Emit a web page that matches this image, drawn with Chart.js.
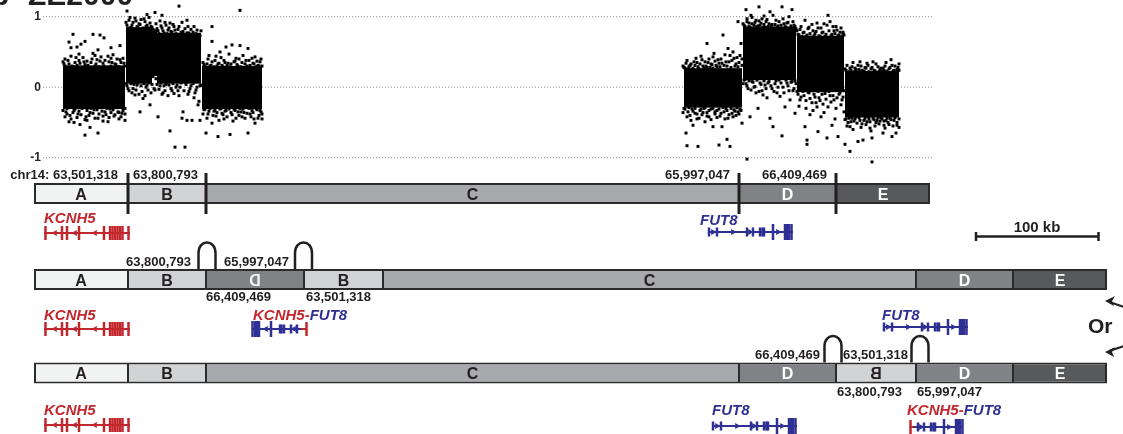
<!DOCTYPE html>
<html>
<head>
<meta charset="utf-8">
<title>KCNH5-FUT8 rearrangement</title>
<script src="https://cdn.jsdelivr.net/npm/chart.js@4.4.1/dist/chart.umd.min.js"></script>
<style>
  html, body { margin: 0; padding: 0; background: #fff; }
  canvas { display: block; }
</style>
</head>
<body>
<canvas id="chart" width="1123" height="434"></canvas>
<script>
// ---- copy number track (log2 ratio) ----
const cnTicks = [1, 0, -1];

// dense body of each segment: [from, to, low, high]
const cnCore = [
  [63, 125, -0.31, 0.31],
  [126, 152, 0.05, 0.85],
  [152, 157, 0.16, 0.80],
  [157, 201, 0.05, 0.77],
  [202, 262, -0.31, 0.30],
  [684, 742, -0.29, 0.27],
  [743, 796, 0.10, 0.86],
  [797, 844, -0.07, 0.73],
  [845, 899, -0.43, 0.23]
];

// probes around the dense bodies: [position, log2 ratio]
const cnLeft = [
  // A
  [64,0.33],[65,0.30],[66,-0.35],[67,-0.30],[68,0.38],[70,-0.40],[72,0.30],[74,-0.33],[76,0.42],[78,-0.38],
  [79,0.47],[80,0.34],[82,-0.30],[84,0.36],[86,-0.42],[87,-0.47],[88,0.31],[90,-0.36],[92,0.40],[94,-0.32],
  [95,0.45],[96,0.33],[98,-0.44],[100,0.37],[102,-0.34],[103,-0.48],[104,0.30],[106,-0.39],[108,0.44],[110,-0.31],
  [111,0.41],[112,0.35],[114,-0.41],[116,0.32],[118,-0.35],[119,-0.45],[120,0.39],[122,-0.37],[124,0.34],[125,-0.30],
  [73,0.75],[69,0.64],[93,0.75],[100,0.74],[104,0.70],[85,0.65],[81,0.61],[77,0.57],[71,0.56],[111,0.56],
  [98,0.53],[120,0.59],[69,-0.49],[74,-0.50],[80,-0.53],[85,-0.68],[98,-0.65],[90,-0.57],[108,-0.49],[125,-0.47],
  [63,0.36],[65,0.40],[67,0.27],[69,0.33],[71,0.44],[73,0.29],[75,0.35],[77,0.31],[79,0.38],[81,0.28],
  [83,0.42],[85,0.32],[87,0.37],[89,0.27],[91,0.35],[93,0.48],[95,0.30],[97,0.39],[99,0.29],[101,0.43],
  [103,0.34],[105,0.38],[107,0.28],[109,0.36],[111,0.30],[113,0.46],[115,0.33],[117,0.40],[119,0.29],[121,0.35],
  [123,0.41],[125,0.30],
  [63,-0.33],[65,-0.42],[67,-0.38],[69,-0.29],[71,-0.45],[73,-0.36],[75,-0.31],[77,-0.43],[79,-0.34],[81,-0.39],
  [83,-0.29],[85,-0.46],[87,-0.33],[89,-0.40],[91,-0.30],[93,-0.37],[95,-0.44],[97,-0.32],[99,-0.38],[101,-0.29],
  [103,-0.41],[105,-0.35],[107,-0.30],[109,-0.43],[111,-0.36],[113,-0.32],[115,-0.39],[117,-0.29],[119,-0.36],[121,-0.42],
  [123,-0.33],[125,-0.38],
  // B
  [127,0.88],[129,0.95],[131,0.85],[133,0.92],[135,0.98],[137,0.86],[139,0.90],[141,0.96],[143,0.84],[145,0.93],
  [147,0.88],[149,0.99],[151,0.86],[153,0.82],[156,0.90],[158,0.80],[160,0.94],[162,0.84],[164,0.77],[166,0.88],
  [168,0.81],[170,0.91],[172,0.78],[174,0.86],[176,0.76],[178,0.82],[180,0.74],[183,0.79],[186,0.73],[189,0.77],
  [192,0.72],[195,0.75],[198,0.70],[200,0.73],[127,1.08],[155,1.06],[179,1.15],[147,1.03],[162,1.02],[187,0.95],
  [126,0.92],[128,0.84],[130,0.99],[132,0.88],[134,0.83],[136,0.94],[138,0.85],[140,0.89],[142,0.83],[144,0.97],
  [146,0.86],[148,0.84],[150,0.91],[152,0.85],[157,0.83],[159,0.76],[161,0.87],[163,0.80],[165,0.92],[167,0.76],
  [169,0.84],[171,0.79],[173,0.89],[175,0.81],[177,0.75],[179,0.86],[181,0.78],[182,0.92],[184,0.75],[185,0.83],
  [187,0.77],[188,0.86],[190,0.74],[191,0.82],[193,0.78],[194,0.86],[196,0.76],[197,0.81],[199,0.75],[201,0.80],
  [127,0.02],[129,-0.05],[131,0.05],[133,-0.02],[135,-0.11],[137,0.03],[140,-0.35],[143,-0.16],[146,0.00],[150,-0.25],
  [152,0.04],[154,-0.02],[155,-0.04],[156,0.12],[158,-0.42],[160,0.02],[163,-0.08],[166,0.04],[170,-0.62],[172,-0.05],
  [175,-0.85],[176,0.00],[179,-0.12],[182,-0.44],[183,-0.35],[185,-0.85],[187,-0.47],[189,-0.06],[192,-0.47],[194,-0.15],
  [197,0.00],[199,-0.20],[201,0.03],[180,0.00],[184,-0.05],[188,-0.10],[191,0.02],[195,-0.08],[198,-0.25],
  [126,0.05],[128,-0.02],[130,0.08],[132,-0.08],[134,0.04],[136,-0.04],[138,0.06],[139,-0.10],[141,0.02],[142,-0.06],
  [144,0.05],[145,-0.12],[147,0.03],[148,-0.04],[149,0.06],[151,-0.08],[157,0.04],[159,-0.03],[161,0.06],[162,-0.10],
  [164,0.02],[165,-0.05],[167,0.07],[168,-0.12],[169,0.03],[171,-0.02],[173,0.05],[174,-0.09],[177,0.03],[178,-0.05],
  [181,0.06],[186,0.04],[190,-0.02],[193,0.05],[196,-0.04],[200,0.02],
  [152.5,0.55],[153,0.25],[153.5,0.74],[154,0.45],[154.5,0.20],[155,0.28],[155.5,0.80],[156,0.40],[156.5,0.72],[153,0.15],
  // C
  [204,0.32],[206,0.28],[208,0.40],[210,0.30],[212,0.36],[214,0.29],[216,0.44],[218,0.33],[220,0.50],[222,0.31],
  [224,0.38],[226,0.57],[228,0.34],[230,0.29],[232,0.60],[234,0.36],[236,0.41],[238,0.30],[240,0.59],[242,0.35],
  [244,0.28],[246,0.38],[248,0.55],[250,0.31],[252,0.41],[254,0.33],[256,0.29],[258,0.31],[260,0.36],[262,0.30],
  [212,0.86],[212,0.65],[240,1.09],
  [203,0.35],[205,0.29],[207,0.33],[209,0.45],[211,0.31],[213,0.28],[215,0.38],[217,0.30],[219,0.34],[221,0.42],
  [223,0.29],[225,0.35],[227,0.31],[229,0.47],[231,0.33],[233,0.28],[235,0.37],[237,0.32],[239,0.40],[241,0.29],
  [243,0.45],[245,0.33],[247,0.30],[249,0.38],[251,0.28],[253,0.34],[255,0.43],[257,0.37],[259,0.30],[261,0.40],
  [204,-0.32],[206,-0.65],[208,-0.38],[210,-0.30],[212,-0.51],[214,-0.34],[216,-0.41],[218,-0.70],[220,-0.31],[222,-0.37],
  [224,-0.45],[226,-0.33],[228,-0.29],[230,-0.67],[232,-0.39],[234,-0.31],[236,-0.44],[238,-0.35],[240,-0.30],[242,-0.42],
  [244,-0.36],[246,-0.29],[248,-0.65],[250,-0.38],[252,-0.33],[254,-0.45],[255,-0.51],[257,-0.32],[259,-0.40],[261,-0.35],
  [262,-0.45],[200,-0.47],
  [203,-0.38],[205,-0.31],[207,-0.44],[209,-0.34],[211,-0.29],[213,-0.40],[215,-0.33],[217,-0.36],[219,-0.47],[221,-0.30],
  [223,-0.39],[225,-0.34],[227,-0.42],[229,-0.31],[231,-0.36],[233,-0.48],[235,-0.33],[237,-0.29],[239,-0.40],[241,-0.35],
  [243,-0.31],[245,-0.44],[247,-0.37],[249,-0.30],[251,-0.42],[253,-0.36],[256,-0.30],[258,-0.44],[260,-0.33],[262,-0.38]
];

const cnRight = [
  // left normal part
  [684,0.28],[686,0.34],[688,0.26],[690,0.31],[692,0.25],[694,0.36],[696,0.41],[698,0.29],[700,0.33],[702,0.39],
  [704,0.27],[706,0.30],[707,0.62],[708,0.35],[710,0.28],[712,0.32],[713,0.43],[715,0.37],[717,0.29],[719,0.34],
  [721,0.40],[723,0.74],[724,0.31],[726,0.36],[728,0.55],[730,0.45],[732,0.38],[733,0.50],[735,0.30],[737,0.42],
  [739,0.35],[741,0.62],[742,0.40],
  [683,0.30],[685,0.27],[687,0.38],[689,0.29],[691,0.33],[693,0.27],[695,0.31],[697,0.35],[699,0.26],[701,0.44],
  [703,0.30],[705,0.36],[707,0.28],[709,0.40],[711,0.33],[713,0.27],[714,0.48],[716,0.31],[718,0.39],[720,0.29],
  [722,0.34],[725,0.46],[727,0.30],[729,0.36],[731,0.28],[734,0.41],[736,0.33],[738,0.29],[740,0.45],[742,0.31],
  [684,-0.30],[686,-0.65],[687,-0.83],[688,-0.35],[690,-0.40],[692,-0.31],[693,-0.54],[695,-0.37],[697,-0.45],[698,-0.84],
  [700,-0.33],[702,-0.39],[704,-0.30],[705,-0.49],[707,-0.36],[709,-0.42],[711,-0.31],[713,-0.56],[715,-0.38],[717,-0.33],
  [719,-0.82],[720,-0.41],[722,-0.56],[724,-0.35],[726,-0.30],[727,-0.74],[728,-0.44],[730,-0.84],[732,-0.37],[734,-0.32],
  [736,-0.40],[738,-0.35],[740,-0.31],[742,-0.51],[747,-1.02],
  [683,-0.36],[685,-0.31],[687,-0.42],[689,-0.29],[691,-0.47],[693,-0.34],[695,-0.30],[697,-0.38],[699,-0.44],[701,-0.31],
  [703,-0.36],[705,-0.29],[707,-0.41],[709,-0.33],[711,-0.46],[713,-0.30],[715,-0.35],[717,-0.43],[719,-0.31],[721,-0.37],
  [723,-0.29],[725,-0.45],[727,-0.33],[729,-0.39],[731,-0.30],[733,-0.42],[735,-0.34],[737,-0.29],[739,-0.38],[741,-0.33],
  // gained D
  [744,0.88],[746,1.10],[747,0.93],[749,0.86],[751,1.02],[752,0.90],[754,0.84],[756,0.95],[758,0.87],[759,1.14],
  [761,0.91],[763,0.85],[764,1.01],[766,0.93],[768,0.86],[770,1.07],[772,0.89],[774,0.84],[776,0.95],[778,0.87],
  [780,0.83],[782,1.14],[784,0.90],[786,0.85],[788,0.92],[790,0.84],[792,1.10],[794,0.88],[796,0.83],[738,0.93],
  [743,0.90],[745,0.86],[747,0.97],[749,0.91],[750,0.85],[752,0.99],[754,0.88],[755,0.92],[757,0.86],[759,0.94],
  [760,0.88],[762,0.97],[764,0.89],[765,0.85],[767,0.96],[769,0.90],[771,0.87],[773,1.02],[775,0.89],[777,0.85],
  [779,0.93],[781,0.88],[783,0.97],[785,0.86],[787,0.91],[789,1.00],[791,0.87],[793,0.93],[795,0.86],
  [744,0.10],[746,0.05],[748,-0.02],[750,-0.42],[752,0.08],[754,0.00],[756,-0.08],[758,-0.30],[760,0.06],[762,-0.05],
  [763,-0.11],[765,0.03],[767,-0.15],[769,0.08],[770,-0.44],[772,-0.02],[773,-0.56],[775,0.05],[777,-0.08],[779,0.10],
  [780,-0.13],[782,-0.69],[783,0.00],[785,-0.28],[787,0.06],[789,-0.05],[790,-0.18],[792,0.08],[794,-0.02],[795,-0.37],
  [796,0.05],
  [743,0.05],[745,0.11],[747,0.02],[749,0.09],[751,-0.04],[753,0.07],[755,0.01],[757,0.10],[759,-0.06],[761,0.04],
  [764,0.09],[766,-0.02],[768,0.06],[771,0.02],[774,-0.06],[776,0.09],[778,0.00],[781,0.06],[784,-0.08],[786,0.10],
  [788,0.02],[791,0.07],[793,-0.05],[795,0.09],
  // second part of D
  [798,0.75],[800,0.82],[802,0.72],[804,0.78],[805,0.95],[807,0.74],[809,0.85],[811,0.71],[813,0.80],[815,0.76],
  [817,0.91],[819,0.73],[821,0.84],[823,0.78],[825,0.72],[827,0.88],[828,1.02],[830,0.93],[832,0.75],[834,0.80],
  [836,0.86],[838,0.73],[840,0.78],[842,0.72],[843,0.76],[844,0.74],
  [797,0.80],[799,0.74],[801,0.86],[803,0.77],[806,0.72],[808,0.83],[810,0.76],[812,0.89],[814,0.73],[816,0.79],
  [818,0.84],[820,0.72],[822,0.77],[824,0.90],[826,0.75],[829,0.80],[831,0.73],[833,0.86],[835,0.76],[837,0.81],
  [839,0.74],[841,0.84],[843,0.78],
  [798,-0.10],[799,-0.27],[801,-0.14],[803,-0.06],[805,-0.56],[806,-0.19],[807,-0.75],[807,-0.81],[809,-0.08],[810,-0.39],
  [812,-0.22],[814,-0.10],[817,-0.28],[818,-0.63],[819,-0.15],[821,-0.42],[823,-0.24],[825,-0.09],[827,-0.72],[828,-0.28],
  [830,-0.12],[832,-0.54],[834,-0.18],[836,-0.30],[838,-0.70],[839,-0.10],[841,-0.25],[843,-0.14],[844,-0.35],
  [797,-0.06],[800,-0.18],[802,-0.04],[804,-0.12],[806,-0.30],[808,-0.07],[810,-0.16],[812,-0.05],[813,-0.33],[815,-0.14],
  [816,-0.22],[818,-0.06],[820,-0.19],[822,-0.10],[824,-0.36],[826,-0.17],[829,-0.06],[831,-0.21],[833,-0.12],[835,-0.45],
  [837,-0.15],[840,-0.08],[842,-0.18],[844,-0.05],
  // E
  [846,0.24],[848,0.20],[850,0.27],[852,0.29],[854,0.22],[856,0.25],[858,0.31],[860,0.36],[862,0.24],[863,0.20],
  [865,0.28],[867,0.34],[869,0.22],[871,0.26],[873,0.36],[875,0.23],[877,0.21],[878,0.29],[880,0.25],[882,0.22],
  [883,0.27],[885,0.30],[887,0.23],[889,0.26],[891,0.39],[892,0.31],[894,0.24],[896,0.22],[898,0.28],[899,0.24],
  [845,0.26],[847,0.31],[849,0.22],[851,0.24],[853,0.35],[855,0.27],[857,0.21],[859,0.25],[861,0.30],[864,0.23],
  [866,0.27],[868,0.31],[870,0.21],[872,0.28],[874,0.24],[876,0.33],[879,0.22],[881,0.27],[884,0.24],[886,0.35],
  [888,0.21],[890,0.28],[893,0.23],[895,0.30],[897,0.25],[899,0.33],
  [845,-0.81],[846,-0.45],[848,-0.50],[850,-0.56],[850,-0.91],[852,-0.44],[854,-0.48],[856,-0.42],[858,-0.77],[860,-0.47],
  [862,-0.52],[863,-0.75],[865,-0.44],[867,-0.49],[869,-0.45],[870,-0.58],[872,-0.72],[872,-1.06],[874,-0.46],[876,-0.50],
  [878,-0.43],[880,-0.48],[882,-0.45],[883,-0.65],[884,-0.54],[886,-0.47],[888,-0.50],[890,-0.44],[892,-0.70],[894,-0.47],
  [896,-0.65],[897,-0.54],[899,-0.45],
  [845,-0.46],[847,-0.55],[849,-0.44],[851,-0.49],[853,-0.60],[855,-0.45],[857,-0.51],[859,-0.43],[861,-0.57],[864,-0.47],
  [866,-0.53],[868,-0.42],[870,-0.49],[871,-0.62],[873,-0.44],[875,-0.55],[877,-0.47],[879,-0.52],[881,-0.43],[884,-0.48],
  [885,-0.58],[887,-0.44],[889,-0.53],[891,-0.46],[893,-0.55],[895,-0.43],[897,-0.50],[899,-0.57]
];

// ---- rearrangement diagram (not to scale) ----
const refSegs = ['A', 'B', 'C', 'D', 'E'];
const refEdges = [34, 128, 206, 739, 836, 930];
const dupSegs = ['A', 'B', 'D*', 'B', 'C', 'D', 'E'];   // * = inverted copy
const dupEdges = [34, 128, 206, 304, 383, 916, 1013, 1107];
const altSegs = ['A', 'B', 'C', 'D', 'B*', 'D', 'E'];
const altEdges = [34, 128, 206, 739, 836, 916, 1013, 1107];

const refBreaks = ['chr14: 63,501,318', '63,800,793', '65,997,047', '66,409,469'];
const dupJunctions = ['63,800,793', '65,997,047', '66,409,469', '63,501,318'];
const altJunctions = ['66,409,469', '63,501,318', '63,800,793', '65,997,047'];

// gene models, offsets from the gene's left end
const kcnh5Len = 86;
const kcnh5Exons = [1.5, 18, 23, 35, 60, 66, 68.5, 71, 73.5, 76, 78.5, 84.5];
const kcnh5Arrows = [11, 31, 51];
const fut8Len = 85;
const fut8Small = [1, 9, 39, 45, 52, 54.5, 56];
const fut8Big = [65, 77, 79, 81, 83.5];
const fut8Arrows = [5, 25, 42, 70];
const fusionCut = 35;   // FUT8 offset where KCNH5 joins

// ---- layout / style ----
const rowY = [193.5, 279.5, 373];
const segColor = { A: '#f1f2f2', B: '#d1d3d4', C: '#a7a9ac', D: '#808285', E: '#58595b' };
const RED = '#c1272d', BLUE = '#2e3192', INK = '#231f20';
const FONT = '"Liberation Sans", Arial, sans-serif';

const datasets = [];

// dotted reference lines at -1, 0, 1
cnTicks.forEach(t => {
  datasets.push({
    type: 'line', yAxisID: 'y', order: 20,
    data: [{ x: 43, y: t }, { x: 932, y: t }],
    borderColor: '#8c8c8c', borderWidth: 1, borderDash: [1, 2], pointRadius: 0
  });
});

// probes
datasets.push({
  type: 'scatter', yAxisID: 'y', order: 19,
  data: cnLeft.concat(cnRight).map(p => ({ x: p[0], y: p[1] })),
  pointStyle: 'rect', pointRadius: 2.1, pointBackgroundColor: '#000', pointBorderWidth: 0
});

// segment boxes (floating horizontal bars)
const boxes = [], boxFill = [], boxBorder = [];
[[refSegs, refEdges], [dupSegs, dupEdges], [altSegs, altEdges]].forEach(([segs, edges], r) => {
  segs.forEach((s, i) => {
    boxes.push({ x: [edges[i], edges[i + 1]], y: rowY[r] });
    boxFill.push(segColor[s[0]]);
    boxBorder.push({ top: 2, bottom: 2, left: i === 0 ? 2 : 1, right: i === segs.length - 1 ? 2 : 1 });
  });
});
datasets.push({
  type: 'bar', indexAxis: 'y', xAxisID: 'x', yAxisID: 'yd', order: 15,
  data: boxes, backgroundColor: boxFill, borderColor: '#2b2b2b', borderWidth: boxBorder,
  borderSkipped: false, barThickness: 21, inflateAmount: 0
});

// breakpoint ticks on the reference row
datasets.push({
  type: 'scatter', yAxisID: 'yd', order: 5,
  data: refEdges.slice(1, -1).map(e => ({ x: e, y: rowY[0] })),
  pointStyle: 'line', pointRadius: 20.5, pointRotation: 90, pointBorderColor: INK, pointBorderWidth: 3
});

function addLine(x0, x1, y, color, width) {
  datasets.push({
    type: 'line', yAxisID: 'yd', order: 12,
    data: [{ x: x0, y }, { x: x1, y }], borderColor: color, borderWidth: width, pointRadius: 0
  });
}
function addMarks(xs, y, color, style, radius, rot, width) {
  datasets.push({
    type: 'scatter', yAxisID: 'yd', order: 8,
    data: xs.map(x => ({ x, y })), pointStyle: style, pointRadius: radius, pointRotation: rot,
    pointBorderColor: color, pointBackgroundColor: color, pointBorderWidth: width
  });
}
function addKcnh5(x0, y) {
  addLine(x0, x0 + kcnh5Len, y, RED, 2);
  addMarks(kcnh5Exons.map(o => x0 + o), y, RED, 'line', 7, 90, 2.5);
  addMarks(kcnh5Arrows.map(o => x0 + o), y, RED, 'triangle', 3.6, -90, 0);
}
function addFut8(x0, y) {
  addLine(x0, x0 + fut8Len, y, BLUE, 2);
  addMarks(fut8Small.map(o => x0 + o), y, BLUE, 'line', 4.5, 90, 2.5);
  addMarks(fut8Big.map(o => x0 + o), y, BLUE, 'line', 8, 90, 2.5);
  addMarks(fut8Arrows.map(o => x0 + o), y, BLUE, 'triangle', 3.6, 90, 0);
}
// fusion: FUT8 3' part from fusionCut, placed by map(offset), plus the red KCNH5 stub
function addFusion(map, y, redFrom, redTo, redTick, arrowRot) {
  const keep = a => a.filter(o => o >= fusionCut);
  addLine(map(fusionCut), map(fut8Len - 1), y, BLUE, 2);
  addLine(redFrom, redTo, y, RED, 2);
  addMarks([redTick], y, RED, 'line', 7, 90, 2.5);
  addMarks(keep(fut8Small).map(map), y, BLUE, 'line', 4.5, 90, 2.5);
  addMarks(keep(fut8Big).map(map), y, BLUE, 'line', 8, 90, 2.5);
  addMarks(keep(fut8Arrows).map(map), y, BLUE, 'triangle', 3.6, arrowRot, 0);
}

addKcnh5(44, 233); addFut8(708, 232);
addKcnh5(44, 329); addFut8(883, 327);
addFusion(o => 301 - (o - fusionCut), 329, 301, 307, 306.5, -90);
addKcnh5(44, 425); addFut8(712, 426);
addFusion(o => 914 + (o - fusionCut), 427, 910, 914, 910.5, 90);

// 100 kb scale bar
datasets.push({
  type: 'line', yAxisID: 'yd', order: 12,
  data: [{ x: 975, y: 236.5 }, { x: 1099, y: 236.5 }], borderColor: INK, borderWidth: 2.5, pointRadius: 0
});
addMarks([976, 1098.5], 236.5, INK, 'line', 4.5, 90, 2.5);

// labels that sit on the diagram: [text, x, baseline, align]
const labelSpots = [
  [refBreaks[0], 118, 179, 'right'], [refBreaks[1], 133, 179, 'left'],
  [refBreaks[2], 730, 179, 'right'], [refBreaks[3], 762, 179, 'left'],
  [dupJunctions[0], 191, 266, 'right'], [dupJunctions[1], 289, 266, 'right'],
  [dupJunctions[2], 206, 301, 'left'], [dupJunctions[3], 306, 301, 'left'],
  [altJunctions[0], 820, 359, 'right'], [altJunctions[1], 843, 359, 'left'],
  [altJunctions[2], 837, 396, 'left'], [altJunctions[3], 917, 396, 'left']
];
const archSpots = [[207, 1], [303.5, 1], [833, 2], [920, 2]];

const diagramPlugin = {
  id: 'diagram',
  afterDatasetsDraw(chart) {
    const { ctx, scales } = chart;
    const X = v => scales.x.getPixelForValue(v);
    const Y = v => scales.y.getPixelForValue(v);
    const D = v => scales.yd.getPixelForValue(v);
    ctx.save();

    // dense cores of the copy-number cloud
    ctx.fillStyle = '#000';
    cnCore.forEach(([a, b, lo, hi]) => {
      ctx.fillRect(X(a), Y(hi), X(b) - X(a), Y(lo) - Y(hi));
    });

    // y tick labels
    ctx.fillStyle = INK;
    ctx.font = 'bold 12px ' + FONT;
    ctx.textAlign = 'right';
    ctx.textBaseline = 'middle';
    cnTicks.forEach(t => ctx.fillText(String(t), 41, Y(t)));

    // clipped panel title
    ctx.textBaseline = 'alphabetic';
    ctx.textAlign = 'left';
    ctx.font = 'bold 30px ' + FONT;
    ctx.fillText('b', -9, 5);
    ctx.fillText('ZE2000', 28, 5);

    // segment letters
    ctx.font = 'bold 16px ' + FONT;
    ctx.textAlign = 'center';
    [[refSegs, refEdges], [dupSegs, dupEdges], [altSegs, altEdges]].forEach(([segs, edges], r) => {
      segs.forEach((s, i) => {
        const cx = X((edges[i] + edges[i + 1]) / 2), cy = D(rowY[r]) + 6;
        const letter = s[0], inverted = s.length > 1;
        ctx.fillStyle = (letter === 'D' || letter === 'E') ? (inverted ? '#f1f2f2' : '#fff') : INK;
        if (inverted) {
          ctx.save(); ctx.translate(cx, cy); ctx.scale(-1, 1); ctx.fillText(letter, 0, 0); ctx.restore();
        } else {
          ctx.fillText(letter, cx, cy);
        }
      });
    });

    // breakpoint coordinates
    ctx.fillStyle = INK;
    ctx.font = 'bold 13px ' + FONT;
    labelSpots.forEach(([t, x, y, al]) => { ctx.textAlign = al; ctx.fillText(t, X(x), D(y)); });

    // junction arches
    ctx.strokeStyle = INK;
    ctx.lineWidth = 2.5;
    archSpots.forEach(([cx, r]) => {
      const base = D(rowY[r]) - 10.5, top = base - 27, x0 = X(cx - 8.5), x1 = X(cx + 8.5);
      ctx.beginPath();
      ctx.moveTo(x0, base);
      ctx.lineTo(x0, top + 11);
      ctx.bezierCurveTo(x0, top - 3, x1, top - 3, x1, top + 11);
      ctx.lineTo(x1, base);
      ctx.stroke();
    });

    // gene names
    ctx.font = 'italic bold 15px ' + FONT;
    ctx.textAlign = 'left';
    const name = (parts, x, y) => {
      let cx = X(x);
      parts.forEach(([t, c]) => { ctx.fillStyle = c; ctx.fillText(t, cx, D(y)); cx += ctx.measureText(t).width; });
    };
    name([['KCNH5', RED]], 44, 223);
    name([['FUT8', BLUE]], 700, 225);
    name([['KCNH5', RED]], 44, 320);
    name([['KCNH5-', RED], ['FUT8', BLUE]], 253, 320);
    name([['FUT8', BLUE]], 882, 320);
    name([['KCNH5', RED]], 44, 415);
    name([['FUT8', BLUE]], 712, 415);
    name([['KCNH5-', RED], ['FUT8', BLUE]], 907, 415);

    // scale bar label
    ctx.fillStyle = INK;
    ctx.font = 'bold 15px ' + FONT;
    ctx.textAlign = 'center';
    ctx.fillText('100 kb', X(1037), D(232));

    // "Or" with the two arrow ends
    ctx.font = 'bold 21px ' + FONT;
    ctx.textAlign = 'left';
    ctx.fillText('Or', X(1088), D(333));
    ctx.lineWidth = 2;
    [[301, 307], [352, 346]].forEach(([tipY, tailY]) => {
      ctx.beginPath();
      ctx.moveTo(X(1110), D(tipY + (tailY - tipY) * 0.2));
      ctx.lineTo(X(1124), D(tailY));
      ctx.stroke();
      ctx.beginPath();
      ctx.moveTo(X(1105), D(tipY));
      ctx.lineTo(X(1115), D(tipY - 5));
      ctx.lineTo(X(1112), D(tipY));
      ctx.lineTo(X(1114), D(tipY + 5));
      ctx.closePath();
      ctx.fill();
    });

    ctx.restore();
  }
};

new Chart(document.getElementById('chart'), {
  type: 'scatter',
  data: { datasets },
  options: {
    responsive: false,
    animation: false,
    events: [],
    layout: { padding: 0, autoPadding: false },
    plugins: { legend: { display: false }, tooltip: { enabled: false } },
    scales: {
      x: { type: 'linear', min: 0, max: 1123, display: false, offset: false },
      y: { type: 'linear', axis: 'y', min: -4.919, max: 1.2369, display: false, offset: false },
      yd: { type: 'linear', axis: 'y', min: 0, max: 434, reverse: true, display: false, offset: false }
    }
  },
  plugins: [diagramPlugin]
});
</script>
</body>
</html>
